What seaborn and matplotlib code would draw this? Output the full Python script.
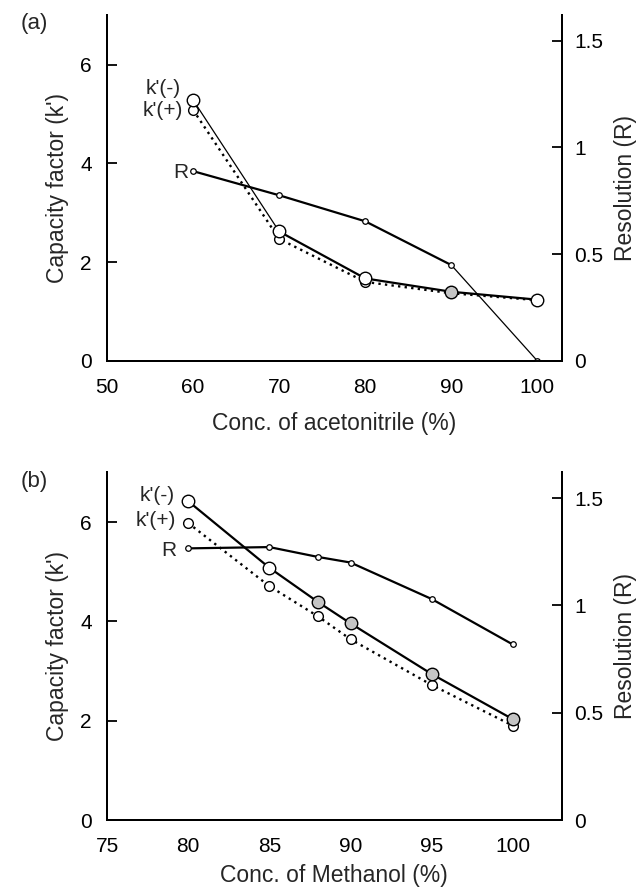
import numpy as np
import pandas as pd
import matplotlib
matplotlib.use('Agg')
import matplotlib.pyplot as plt
import seaborn as sns

# Panel (a): acetonitrile
acn_conc = [60, 70, 80, 90, 100]
acn_k_minus = [5.28, 2.62, 1.67, 1.40, 1.24]
acn_k_plus = [5.08, 2.47, 1.60, 1.37, 1.23]
acn_res = [0.889, 0.776, 0.654, 0.449, 0.0]

# Panel (b): methanol
meoh_conc = [80, 85, 88, 90, 95, 100]
meoh_k_minus = [6.42, 5.08, 4.39, 3.96, 2.94, 2.03]
meoh_k_plus = [5.98, 4.71, 4.10, 3.64, 2.72, 1.90]
meoh_res = [1.266, 1.272, 1.226, 1.20, 1.03, 0.818]

sns.set_style('white')
plt.rcParams['font.family'] = ['Liberation Sans', 'DejaVu Sans']

fig = plt.figure(figsize=(6.41, 8.89), dpi=100)
ax_a = fig.add_axes([0.167, 0.594, 0.709, 0.389])
ax_b = fig.add_axes([0.167, 0.0776, 0.709, 0.391])

mk = dict(marker='o', markeredgecolor='black')


def draw_panel(ax, conc, kminus, kplus, res, xlim, xticks, xlabel, tag,
               lab_off, shaded, thin_k=False, thin_r=False, xpad=6):
    ax2 = ax.twinx()
    # k'(+) dotted
    sns.lineplot(x=conc, y=kplus, ax=ax, color='black', lw=1.7, ls=(0, (1, 1.8)),
                 markersize=7, markerfacecolor='white', markeredgewidth=1.0, **mk)
    # k'(-) solid
    if thin_k:
        sns.lineplot(x=conc[:2], y=kminus[:2], ax=ax, color='black', lw=0.9)
        sns.lineplot(x=conc[1:], y=kminus[1:], ax=ax, color='black', lw=1.6)
    else:
        sns.lineplot(x=conc, y=kminus, ax=ax, color='black', lw=1.6)
    faces = ['#c4c4c4' if c in shaded else 'white' for c in conc]
    for xv, yv, fc in zip(conc, kminus, faces):
        ax.plot(xv, yv, ls='none', markersize=9, markerfacecolor=fc,
                markeredgewidth=1.0, zorder=5, **mk)
    # resolution
    if thin_r:
        sns.lineplot(x=conc[:-1], y=res[:-1], ax=ax2, color='black', lw=1.6)
        sns.lineplot(x=conc[-2:], y=res[-2:], ax=ax2, color='black', lw=0.9)
    else:
        sns.lineplot(x=conc, y=res, ax=ax2, color='black', lw=1.6)
    ax2.plot(conc, res, ls='none', markersize=4, markerfacecolor='white',
             markeredgewidth=0.9, **mk)

    ax.set_xlim(*xlim)
    ax.set_ylim(0, 7.0)
    ax2.set_ylim(0, 1.62)
    ax.set_xticks(xticks)
    ax.set_yticks([0, 2, 4, 6])
    ax2.set_yticks([0, 0.5, 1, 1.5])
    ax2.set_yticklabels(['0', '0.5', '1', '1.5'])

    for a in (ax, ax2):
        a.spines['top'].set_visible(False)
        for s in a.spines.values():
            s.set_linewidth(1.4)
            s.set_color('black')
        a.tick_params(direction='in', length=7, width=1.3, labelsize=15, colors='black')
    ax.tick_params(axis='y', pad=11)
    ax.tick_params(axis='x', pad=12)
    ax2.tick_params(axis='y', pad=9)

    ax.set_xlabel(xlabel, fontsize=16.5, labelpad=xpad)
    ax.set_ylabel("Capacity factor (k')", fontsize=16.5, labelpad=8)
    ax2.set_ylabel('Resolution (R)', fontsize=16.5, labelpad=8)

    names = ["k'(-)", "k'(+)", 'R']
    tgt = [(ax, kminus[0]), (ax, kplus[0]), (ax2, res[0])]
    for name, (a, yv), off in zip(names, tgt, lab_off):
        a.annotate(name, xy=(conc[0], yv), xytext=off, textcoords='offset pixels',
                   ha='right', va='center', fontsize=15)
    ax.text(-0.13, 0.975, tag, transform=ax.transAxes, fontsize=16,
            ha='right', va='center')
    return ax2


draw_panel(ax_a, acn_conc, acn_k_minus, acn_k_plus, acn_res, (50, 102.8),
           [50, 60, 70, 80, 90, 100], 'Conc. of acetonitrile (%)', '(a)',
           [(-12, 12), (-10, -1), (-5, -1)], shaded=[90], thin_k=True, thin_r=True,
           xpad=11)
draw_panel(ax_b, meoh_conc, meoh_k_minus, meoh_k_plus, meoh_res, (75, 103),
           [75, 80, 85, 90, 95, 100], 'Conc. of Methanol (%)', '(b)',
           [(-13, 6), (-12, 3), (-12, -2)], shaded=[88, 90, 95, 100])

fig.savefig('out.png', dpi=100, facecolor='white')
